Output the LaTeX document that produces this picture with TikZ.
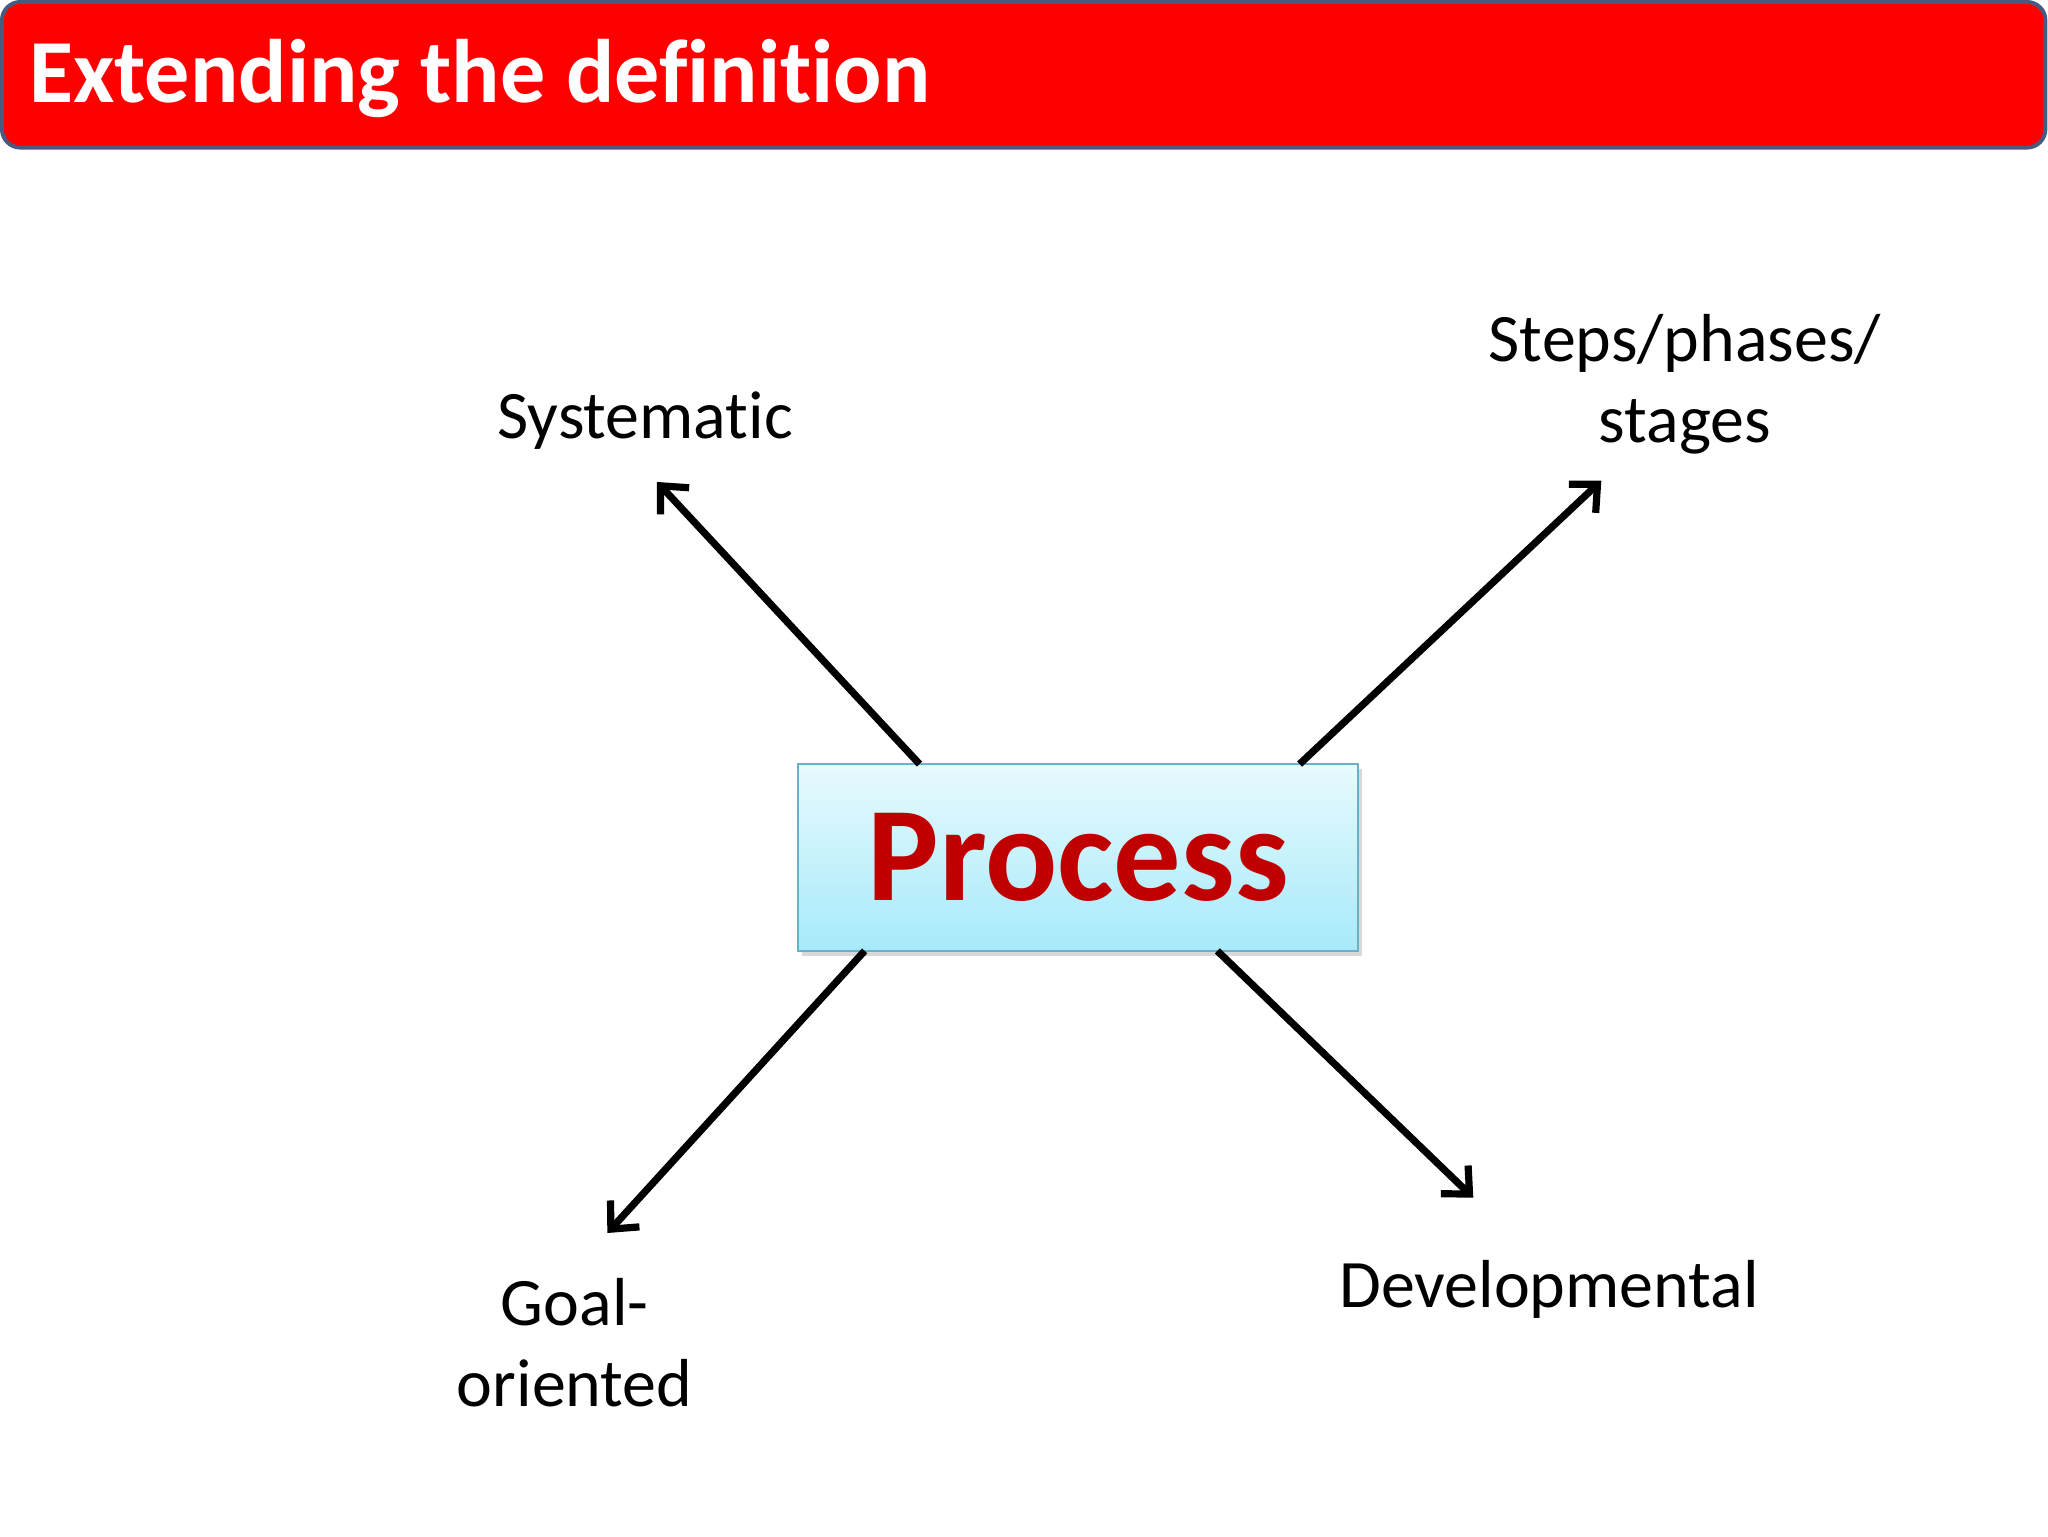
\documentclass[tikz,border=0pt]{standalone}
\usepackage{fontspec}
\setmainfont{Carlito}[Ligatures={NoCommon}]
\usetikzlibrary{arrows.meta,shadows}
\begin{document}
\begin{tikzpicture}[x=1pt,y=-1pt,
  lbl/.style={font=\fontsize{52}{62}\selectfont,align=center,text=black},
  arr/.style={line width=5.5pt,-{Straight Barb[length=16pt,width=30pt,line width=5.5pt]}}]
\useasboundingbox (0,0) rectangle (1568,1176);
\fill[white] (0,0) rectangle (1568,1176);
\draw[fill={rgb,255:red,255;green,0;blue,0},draw={rgb,255:red,70;green,90;blue,130},line width=3pt,rounded corners=14pt] (1.5,1.5) rectangle (1566,113);
\node[anchor=west,text=white,font=\fontsize{69}{72}\selectfont\bfseries] (title) at (19,60) {Extending the definition};
\node[draw={rgb,255:red,110;green,175;blue,200},line width=1.5pt,top color={rgb,255:red,232;green,250;blue,254},bottom color={rgb,255:red,166;green,234;blue,250},minimum width=429pt,minimum height=143pt,drop shadow={opacity=0.3,shadow xshift=3pt,shadow yshift=-4pt},text={rgb,255:red,192;green,0;blue,0},font=\fontsize{103}{110}\selectfont\bfseries] (proc) at (825.5,656.5) {Process};
\node[lbl] (sys) at (494,322) {Systematic};
\node[lbl] (steps) at (1290,294) {Steps/phases/\\stages};
\node[lbl] (goal) at (440,1028) {Goal-\\oriented};
\node[lbl] (dev) at (1186,987) {Developmental};
\coordinate (a1) at (704,585); \coordinate (b1) at (503,369);
\coordinate (a2) at (995,585); \coordinate (b2) at (1226,368);
\coordinate (a3) at (662,728); \coordinate (b3) at (465,944);
\coordinate (a4) at (932,728); \coordinate (b4) at (1128,917);
\draw[arr] (a1) -- (b1);
\draw[arr] (a2) -- (b2);
\draw[arr] (a3) -- (b3);
\draw[arr] (a4) -- (b4);
\end{tikzpicture}
\end{document}
